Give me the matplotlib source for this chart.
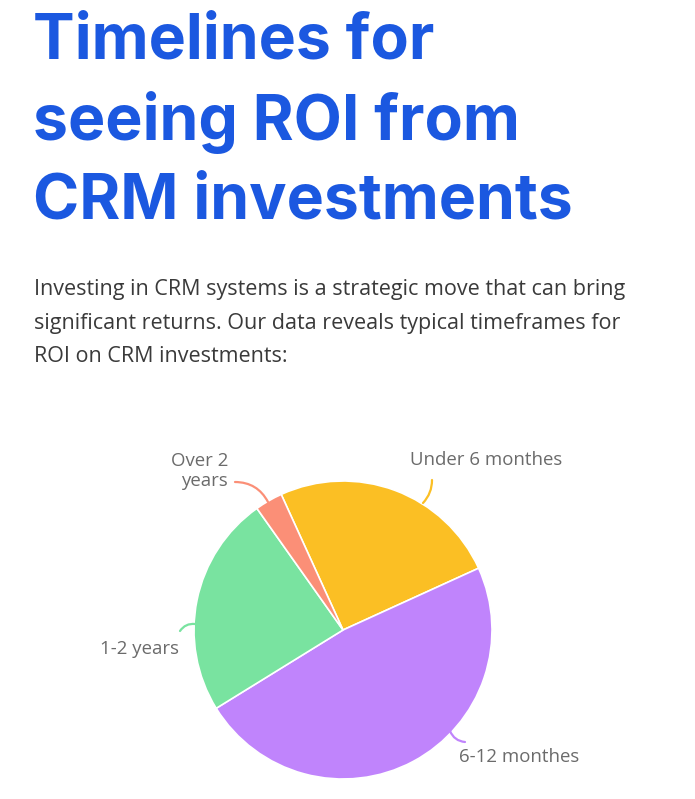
import matplotlib
matplotlib.use("Agg")
import matplotlib.pyplot as plt

W, H = 695, 799

title_lines = ["Timelines for", "seeing ROI from", "CRM investments"]
body_lines = [
    "Investing in CRM systems is a strategic move that can bring",
    "significant returns. Our data reveals typical timeframes for",
    "ROI on CRM investments:",
]
categories = ["Under 6 monthes", "6-12 monthes", "1-2 years", "Over 2\nyears"]
values = [25, 48, 24, 3]
colors = ["#FBBF24", "#C084FC", "#79E3A0", "#FB8F77"]

fig = plt.figure(figsize=(W / 100, H / 100), dpi=100)
ax = fig.add_axes([0, 0, 1, 1])

def Y(y):
    return H - y

cx, cy, r = 343, 630, 149
wedges, _ = ax.pie(values, colors=colors, startangle=114.5, counterclock=False,
                   center=(cx, Y(cy)), radius=r,
                   wedgeprops=dict(edgecolor="white", linewidth=1.2))
ax.set_xlim(0, W)
ax.set_ylim(0, H)
ax.set_aspect("auto")
ax.axis("off")

# Title
for i, t in enumerate(title_lines):
    ax.text(33, Y(42 + i * 80), t, fontsize=45, fontweight="bold", family="Inter",
            color="#1B58E0", va="center", ha="left")

# Body
for i, t in enumerate(body_lines):
    ax.text(34, Y(290 + i * 33.5), t, fontsize=15.5, family="Open Sans",
            color="#3a3a3a", va="center", ha="left")

lab_color = "#6b6b6b"
lab_font = dict(fontsize=13.4, family="Open Sans", color=lab_color)

# labels with leader lines
label_specs = [
    # text, text pos, ha, line start, line end, conn rad
    (categories[0], (410, 460), "left", (432, 480), (423, 503), -0.2),
    (categories[1], (459, 757), "left", (465, 742), (450, 731), -0.3),
    (categories[2], (179, 649), "right", (180, 631), (195, 624), -0.3),
    (categories[3], (228, 471), "right", (235, 482), (268, 502), -0.3),
]
for (txt, tp, ha, p0, p1, rad), col in zip(label_specs, colors):
    ax.text(tp[0], Y(tp[1]), txt, ha=ha, va="center", linespacing=1.2, **lab_font)
    ax.annotate("", xy=(p1[0], Y(p1[1])), xytext=(p0[0], Y(p0[1])),
                arrowprops=dict(arrowstyle="-", color=col, lw=1.6,
                                connectionstyle=f"arc3,rad={rad}",
                                shrinkA=0, shrinkB=0))

fig.savefig("out.png", dpi=100, facecolor="white")
